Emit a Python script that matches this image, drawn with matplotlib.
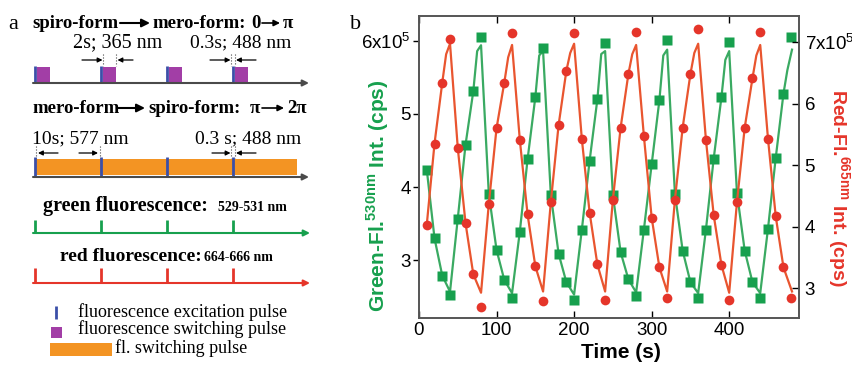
import matplotlib
matplotlib.use('Agg')
import matplotlib.pyplot as plt
from matplotlib.patches import Rectangle

plt.rcParams['mathtext.fontset'] = 'custom'
plt.rcParams['mathtext.rm'] = 'Liberation Sans'
plt.rcParams['mathtext.bf'] = 'Liberation Sans:bold'

# ---- panel b data (intensities in units of 1e5 cps) ----
time = [10, 20, 30, 40, 50, 60, 70, 80,
        90, 100, 110, 120, 130, 140, 150, 160,
        170, 180, 190, 200, 210, 220, 230, 240,
        250, 260, 270, 280, 290, 300, 310, 320,
        330, 340, 350, 360, 370, 380, 390, 400,
        410, 420, 430, 440, 450, 460, 470, 480]
green_int = [4.24, 3.30, 2.79, 2.52, 3.57, 4.58, 5.31, 6.05,
             3.91, 3.14, 2.73, 2.49, 3.39, 4.38, 5.23, 5.90,
             3.89, 3.09, 2.70, 2.46, 3.42, 4.36, 5.20, 5.97,
             3.89, 3.11, 2.74, 2.51, 3.42, 4.31, 5.19, 6.01,
             3.91, 3.13, 2.70, 2.48, 3.42, 4.39, 5.23, 5.98,
             3.92, 3.13, 2.70, 2.49, 3.43, 4.40, 5.28, 6.05]
red_int = [4.03, 5.35, 6.34, 7.04, 5.28, 4.06, 3.23, 2.70,
           4.37, 5.60, 6.34, 7.15, 5.41, 4.20, 3.36, 2.80,
           4.40, 5.65, 6.53, 7.15, 5.42, 4.23, 3.39, 2.81,
           4.44, 5.61, 6.48, 7.16, 5.47, 4.15, 3.34, 2.84,
           4.44, 5.61, 6.48, 7.21, 5.41, 4.19, 3.38, 2.81,
           4.40, 5.61, 6.41, 7.16, 5.43, 4.17, 3.34, 2.84]

# smoothed traces (lines)
green_fit_t = [10, 20, 30, 40, 50, 60, 70, 75, 80,
               90, 100, 110, 120, 130, 140, 150, 155, 160,
               170, 180, 190, 200, 210, 220, 230, 235, 240,
               250, 260, 270, 280, 290, 300, 310, 315, 320,
               330, 340, 350, 360, 370, 380, 390, 395, 400,
               410, 420, 430, 440, 450, 460, 470, 475, 481]
green_fit = [4.24, 3.30, 2.79, 2.57, 3.57, 4.58, 5.31, 5.86, 5.94,
             3.91, 3.14, 2.73, 2.55, 3.39, 4.38, 5.23, 5.80, 5.86,
             3.89, 3.09, 2.70, 2.53, 3.42, 4.36, 5.20, 5.82, 5.86,
             3.89, 3.11, 2.74, 2.56, 3.42, 4.31, 5.19, 5.80, 5.88,
             3.91, 3.13, 2.70, 2.55, 3.42, 4.39, 5.23, 5.74, 5.86,
             3.92, 3.13, 2.70, 2.55, 3.43, 4.40, 5.28, 5.60, 5.88]
red_fit_t = [10, 20, 30, 35, 40, 50, 60, 70, 80,
             90, 100, 110, 115, 120, 130, 140, 150, 160,
             170, 180, 190, 195, 200, 210, 220, 230, 240,
             250, 260, 270, 275, 280, 290, 300, 310, 320,
             330, 340, 350, 355, 360, 370, 380, 390, 400,
             410, 420, 430, 435, 440, 450, 460, 470, 481]
red_fit = [4.03, 5.35, 6.34, 6.80, 6.97, 5.28, 4.06, 3.23, 2.93,
           4.37, 5.60, 6.34, 6.75, 6.95, 5.41, 4.20, 3.36, 2.95,
           4.40, 5.65, 6.53, 6.82, 6.97, 5.42, 4.23, 3.39, 2.95,
           4.44, 5.61, 6.48, 6.80, 6.95, 5.47, 4.15, 3.34, 2.95,
           4.44, 5.61, 6.48, 6.82, 6.97, 5.41, 4.19, 3.38, 2.93,
           4.40, 5.61, 6.41, 6.78, 6.95, 5.43, 4.17, 3.34, 2.95]

green_ticks = [3, 4, 5, 6]
green_ticklabels = ['3', '4', '5', '6x10$^5$']
red_ticks = [3, 4, 5, 6, 7]
red_ticklabels = ['3', '4', '5', '6', '7x10$^5$']
time_ticks = [0, 100, 200, 300, 400]

# ---- panel a schematic ----
pulse_idx = [0, 1, 2, 3]

c_blue = '#3b4fa8'
c_purple = '#a23ea6'
c_orange = '#f39423'
c_green = '#17a04e'
c_green_l = '#3aaa62'
c_red = '#e5352a'
c_red_l = '#e9552f'
c_axis = '#4a4a4a'

fig = plt.figure(figsize=(8.53, 3.69), dpi=100)

# ================= panel a =================
axa = fig.add_axes([0, 0, 320 / 853, 1])
axa.set_xlim(0, 320)
axa.set_ylim(369, 0)
axa.axis('off')

serif = 'Liberation Serif'
x0 = 35
step = 66


def arrow(x1, y1, x2, y2, color='black', lw=1.2, ms=9):
    axa.annotate('', xy=(x2, y2), xytext=(x1, y1),
                 arrowprops=dict(arrowstyle='-|>', color=color, lw=lw,
                                 mutation_scale=ms, shrinkA=0, shrinkB=0))


def txt(x, y, s, size=14, weight='normal', color='black'):
    axa.text(x, y, s, fontsize=size, fontweight=weight, color=color,
             family=serif, ha='left', va='baseline')


txt(8, 29, 'a', size=16)

# row 1: spiro -> mero
txt(32, 28, 'spiro-form', 13.5, 'bold')
arrow(120, 23, 150, 23, lw=1.5, ms=12)
txt(152, 28, 'mero-form:', 13.5, 'bold')
txt(251, 28, '0', 13.5, 'bold')
arrow(262, 23, 280, 23, lw=1.2, ms=9)
txt(283, 28, '\u03c0', 13.5, 'bold')

txt(73, 47, '2s; 365 nm', 14.5)
txt(190, 47, '0.3s; 488 nm', 14)

for i in pulse_idx:
    px = x0 + step * i
    axa.add_patch(Rectangle((px + 2.5, 67), 13, 16, color=c_purple, lw=0))
    axa.vlines(px, 66, 83, color=c_blue, lw=2)
arrow(33, 83, 309, 83, color=c_axis, lw=1.5, ms=9)

p1 = x0 + step
axa.vlines([p1 + 2.5, p1 + 15.5], 54, 66, color=c_axis, lw=0.8, linestyles=':')
arrow(82, 60, p1 + 1.5, 60, ms=7, lw=0.9)
arrow(133, 60, p1 + 16.5, 60, ms=7, lw=0.9)
p3 = x0 + step * 3
axa.vlines([p3 - 1.5, p3 + 2], 54, 66, color=c_axis, lw=0.8, linestyles=':')
arrow(210, 60, p3 - 2.5, 60, ms=7, lw=0.9)
arrow(256, 60, p3 + 3, 60, ms=7, lw=0.9)

# row 2: mero -> spiro
txt(32, 113, 'mero-form', 13.5, 'bold')
arrow(117, 108, 145, 108, lw=1.5, ms=12)
txt(148, 113, 'spiro-form:', 13.5, 'bold')
txt(250, 113, '\u03c0', 13.5, 'bold')
arrow(262, 108, 284, 108, lw=1.2, ms=9)
txt(287, 113, '2\u03c0', 13.5, 'bold')

txt(32, 143, '10s; 577 nm', 14)
txt(195, 143, '0.3 s; 488 nm', 14)

axa.add_patch(Rectangle((x0, 159), 297 - x0, 16, color=c_orange, lw=0))
for i in pulse_idx:
    px = x0 + step * i
    axa.vlines(px, 157, 177, color=c_blue, lw=2)
arrow(33, 177, 309, 177, color=c_axis, lw=1.5, ms=9)

axa.vlines([x0 + 1, x0 + step - 1], 146, 158, color=c_axis, lw=0.8, linestyles=':')
arrow(58, 153, x0 + 3, 153, ms=7, lw=0.9)
arrow(79, 153, x0 + step - 3, 153, ms=7, lw=0.9)
axa.vlines([p3 - 1.5, p3 + 2], 146, 158, color=c_axis, lw=0.8, linestyles=':')
arrow(212, 153, p3 - 2.5, 153, ms=7, lw=0.9)
arrow(256, 153, p3 + 3, 153, ms=7, lw=0.9)

# green fluorescence
txt(43, 211, 'green fluorescence:', 14.5, 'bold')
txt(218, 211, '529-531 nm', 10, 'bold')
arrow(33, 233, 310, 233, color=c_green, lw=1.5, ms=9)
for i in pulse_idx:
    axa.vlines(x0 + step * i, 220, 233, color=c_green, lw=2)

# red fluorescence
txt(60, 261, 'red fluorescence:', 14, 'bold')
txt(204, 261, '664-666 nm', 10, 'bold')
arrow(33, 283, 310, 283, color=c_red, lw=1.5, ms=9)
for i in pulse_idx:
    axa.vlines(x0 + step * i, 268, 283, color=c_red, lw=2)

# legend
axa.vlines(56, 306, 319, color=c_blue, lw=2)
txt(78, 317, 'fluorescence excitation pulse', 13)
axa.add_patch(Rectangle((51, 327), 11, 11, color=c_purple, lw=0))
txt(78, 334, 'fluorescence switching pulse', 13)
axa.add_patch(Rectangle((50, 343), 62, 13, color=c_orange, lw=0))
txt(115, 353, 'fl. switching pulse', 13)

# ================= panel b =================
sans = 'Liberation Sans'
ax = fig.add_axes([419 / 853, 1 - 318 / 369, 380 / 853, 302 / 369])
ax.plot(green_fit_t, green_fit, '-', color=c_green_l, lw=1.6)
ax.plot(time, green_int, 's', color=c_green, ms=6.5, mec='none')
ax.set_xlim(0, 490)
ax.set_ylim(2.21, 6.34)

ax2 = ax.twinx()
ax2.plot(red_fit_t, red_fit, '-', color=c_red_l, lw=1.6)
ax2.plot(time, red_int, 'o', color=c_red, ms=7, mec='none')
ax2.set_ylim(2.52, 7.42)

for a in (ax, ax2):
    for sp in a.spines.values():
        sp.set_color('#555555')
        sp.set_linewidth(1.2)

ax.set_xticks(time_ticks)
ax.set_xticklabels([str(v) for v in time_ticks], family=sans, fontsize=13.5)
ax.set_yticks(green_ticks)
ax.set_yticklabels(green_ticklabels, family=sans, fontsize=13.5)
ax2.set_yticks(red_ticks)
ax2.set_yticklabels(red_ticklabels, family=sans, fontsize=13.5)
ax.tick_params(axis='x', direction='in', top=True, length=5, width=1, pad=3)
ax.tick_params(axis='y', direction='out', length=4, width=1, pad=2)
ax2.tick_params(axis='y', direction='in', length=5, width=1, pad=4)

fig.text(621 / 853, 1 - 358 / 369, 'Time (s)', family=sans, fontsize=15,
         fontweight='bold', ha='center', va='baseline')
fig.text(391 / 853, 1 - 196 / 369, r'Green-Fl.$^{\mathbf{530nm}}$ Int. (cps)',
         family=sans, fontsize=15, fontweight='bold', color=c_green,
         rotation=90, ha='right', va='center')
fig.text(825 / 853, 1 - 188 / 369, r'Red-Fl.$^{\mathbf{665nm}}$ Int. (cps)',
         family=sans, fontsize=14, fontweight='bold', color=c_red,
         rotation=-90, ha='left', va='center')

fig.text(350 / 853, 1 - 29 / 369, 'b', family=serif, fontsize=16,
         va='baseline')

fig.savefig('out.png', dpi=100)
